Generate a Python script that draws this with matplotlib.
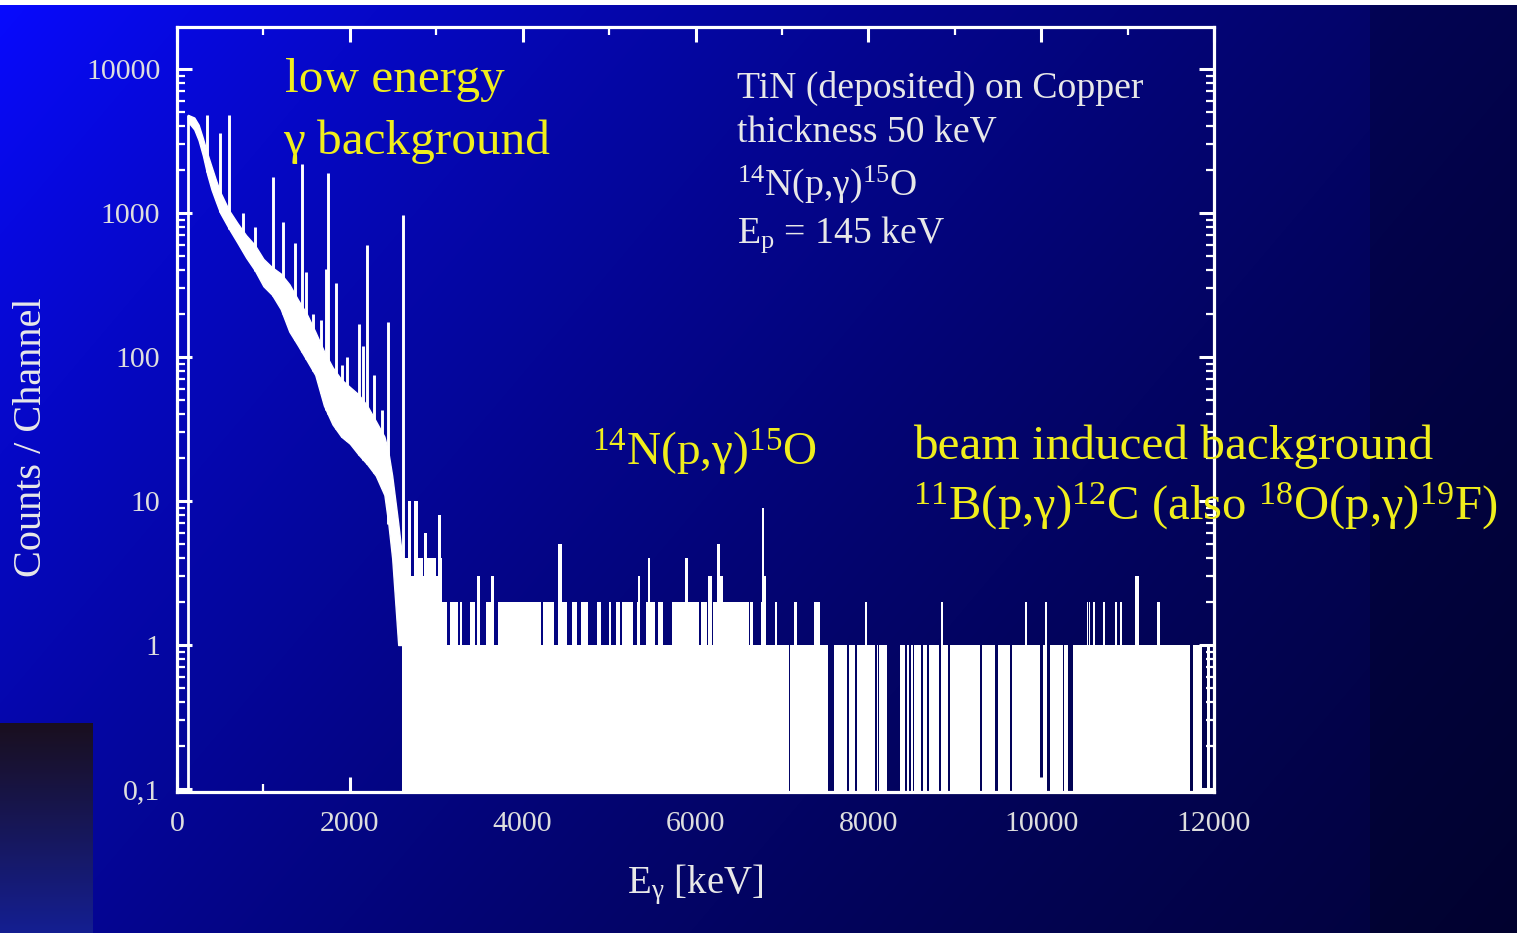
import numpy as np
import matplotlib.pyplot as plt
from matplotlib.ticker import LogLocator, NullFormatter, MultipleLocator

plt.rcParams['font.family'] = 'Liberation Serif'
plt.rcParams['mathtext.fontset'] = 'custom'
plt.rcParams['mathtext.rm'] = 'Liberation Serif'
plt.rcParams['mathtext.it'] = 'Liberation Serif:italic'

# ----------- DATA -----------------------------------
# low energy continuum, drawn as a white band (lower / upper edge), keV and counts
band_e = [127, 200, 250, 300, 350, 400, 450, 500, 600, 700, 800, 900, 1000, 1100,
          1200, 1300, 1400, 1500, 1600, 1700, 1800, 1900, 2000, 2100, 2200, 2300,
          2400, 2445, 2490, 2560, 2607]
band_lo = [4300, 3800, 3200, 2500, 1850, 1450, 1200, 1000, 780, 620, 490, 400, 310, 270,
           215, 150, 120, 95, 75, 46, 34, 28, 25, 21, 18, 15,
           11, 7, 4, 1, 1]
band_hi = [4800, 4600, 4100, 3300, 2600, 2100, 1700, 1400, 1050, 850, 700, 600, 480, 420,
           380, 320, 250, 200, 150, 110, 85, 70, 62, 55, 46, 36,
           28, 22, 15, 7, 4]

# background lines on top of the continuum
peak_e = [343, 497, 605, 760, 903, 1107, 1223, 1366, 1447, 1493, 1578, 1665, 1724,
          1751, 1838, 1905, 1964, 2102, 2157, 2195, 2280, 2369, 2446, 2612]
peak_c = [4800, 3600, 4800, 1000, 800, 1790, 870, 620, 2200, 390, 200, 180, 410,
          1890, 325, 88, 100, 170, 120, 600, 75, 43, 175, 970]

# high energy part: run starts (keV) and counts per channel in that run
hi_e = [2607, 2677, 2704, 2747, 2786, 2843, 2859, 2897, 3000, 3025, 3052,
        3063, 3121, 3160, 3256, 3275, 3302, 3391, 3449, 3468, 3507, 3576, 3630, 3669,
        3719, 4209, 4232, 4363, 4414, 4460, 4510, 4576, 4626, 4672, 4761, 4857, 4904,
        5004, 5019, 5081, 5127, 5154, 5282, 5320, 5340, 5359, 5428, 5455, 5475, 5532,
        5571, 5621, 5733, 5880, 5918, 6042, 6061, 6130, 6150, 6188, 6208, 6246, 6285,
        6323, 6620, 6632, 6663, 6755, 6771, 6790, 6817, 6921, 6940, 7080, 7092, 7145,
        7172, 7377, 7442, 7535, 7608, 7751, 7774, 7840, 7867, 7963, 7990, 8079, 8095,
        8110, 8125, 8214, 8368, 8430, 8445, 8465, 8488, 8515, 8534, 8607, 8630, 8677,
        8700, 8812, 8839, 8862, 8927, 8947, 9294, 9321, 9468, 9495, 9641, 9668, 9815,
        9834, 9988, 10027, 10046, 10066, 10100, 10247, 10270, 10316, 10363, 10528,
        10540, 10552, 10567, 10598, 10618, 10710, 10733, 10857, 10876, 10914, 10941,
        11090, 11127, 11339, 11377, 11725, 11755, 11860, 11918]
hi_c = [4, 10, 3, 10, 4, 3, 6, 4, 3, 8, 4,
        2, 1, 2, 1, 2, 1, 2, 1, 3, 1, 2, 3, 1,
        2, 1, 2, 1, 5, 2, 1, 2, 1, 2, 1, 2, 1,
        2, 1, 2, 1, 2, 1, 2, 3, 1, 2, 4, 2, 1,
        2, 1, 2, 4, 2, 1, 2, 1, 3, 1, 2, 5, 3,
        2, 1, 2, 1, 2, 9, 3, 1, 2, 1, 0, 1, 2,
        1, 2, 1, 0, 1, 0, 1, 0, 1, 2, 1, 0, 1,
        0, 1, 0, 1, 0, 1, 0, 1, 0, 1, 0, 1, 0,
        1, 0, 2, 1, 0, 1, 0, 1, 0, 1, 0, 1, 2,
        1, 0, 1, 2, 0, 1, 0, 1, 0, 1, 2,
        1, 2, 1, 2, 1, 2, 1, 2, 1, 2, 1,
        3, 1, 2, 1, 0, 1, 0, 1]
spec_end = 11950

x_ticks = [0, 2000, 4000, 6000, 8000, 10000, 12000]
y_ticks = [0.1, 1, 10, 100, 1000, 10000]
y_labels = ['0,1', '1', '10', '100', '1000', '10000']

W, H = 1517, 933
YELLOW = '#f0ee1c'
LIGHT = '#e8e8e8'

# ----------- FIGURE + BACKGROUND ------------
fig = plt.figure(figsize=(W / 100, H / 100), dpi=100)

xx, yy = np.meshgrid(np.arange(W), np.arange(H))
b = np.exp(-0.95 * xx / 1500 - 0.5 * yy / H)
b[:, 1370:] *= 0.8
bg = np.dstack([0.03 * b, 0.04 * b, b])
bg[:5, :, :] = 1.0
t = np.linspace(0, 1, H - 723)[:, None]
bg[723:, :93, 0] = 0.10 - 0.02 * t
bg[723:, :93, 1] = 0.06 + 0.06 * t
bg[723:, :93, 2] = 0.12 + 0.45 * t

ax_bg = fig.add_axes([0, 0, 1, 1])
ax_bg.imshow(bg, aspect='auto', extent=[0, W, H, 0])
ax_bg.axis('off')

# ----------- SPECTRUM ------------
ax = fig.add_axes([177 / W, 1 - 792 / H, 1037 / W, 765 / H])
ax.patch.set_alpha(0)
ax.set_yscale('log')
ax.set_xlim(0, 12000)
ax.set_ylim(0.0953, 19570)

ax.fill_between(band_e, band_lo, band_hi, color='white', lw=1.0, edgecolor='white')
ax.vlines(band_e[0], 1e-3, band_hi[0], color='white', lw=2)
base = np.interp(peak_e, band_e, band_lo)
ax.vlines(peak_e, base, peak_c, color='white', lw=2.1)

he = np.array(hi_e + [spec_end], float)
hc = np.array(hi_c + [hi_c[-1]], float)
hc[hc == 0] = 1e-3
ax.fill_between(he, 1e-3, hc, step='post', color='white', lw=0)

# ----------- AXES STYLE ------------
for s in ax.spines.values():
    s.set_color('white')
    s.set_linewidth(2.3)

ax.set_xticks(x_ticks)
ax.xaxis.set_minor_locator(MultipleLocator(1000))
ax.set_yticks(y_ticks)
ax.set_yticklabels(y_labels)
ax.yaxis.set_minor_locator(LogLocator(base=10, subs=np.arange(2, 10)))
ax.yaxis.set_minor_formatter(NullFormatter())
ax.tick_params(which='both', direction='in', top=True, right=True, color='white',
               labelcolor='#dedede', labelsize=21.5)
ax.tick_params(which='major', length=11, width=2.2)
ax.tick_params(which='minor', length=5.5, width=1.6)
ax.tick_params(axis='y', pad=12)
ax.tick_params(axis='x', pad=14)

# ----------- TEXT ------------
def ftext(x, y, s, **kw):
    fig.text(x / W, 1 - y / H, s, va='center', ha='left', **kw)

ftext(627, 885, r'E$_{\mathrm{\gamma}}$ [keV]', color=LIGHT, size=28)
fig.text(32 / W, 1 - 437 / H, 'Counts / Channel', rotation=90, va='center',
         ha='center', color=LIGHT, size=29)

ftext(285, 80, 'low energy', color=YELLOW, size=35.5)
ftext(283, 142, 'γ background', color=YELLOW, size=35.5)

ftext(737, 88, 'TiN (deposited) on Copper', color=LIGHT, size=27.2)
ftext(737, 133, 'thickness 50 keV', color=LIGHT, size=27.2)
ftext(737, 184, r'$^{14}$N(p,γ)$^{15}$O', color=LIGHT, size=27.2)
ftext(737, 235, r'E$_{\mathrm{p}}$ = 145 keV', color=LIGHT, size=27.2)

ftext(592, 452, r'$^{14}$N(p,γ)$^{15}$O', color=YELLOW, size=34)
ftext(913, 447, 'beam induced background', color=YELLOW, size=35.5)
ftext(913, 506, r'$^{11}$B(p,γ)$^{12}$C (also $^{18}$O(p,γ)$^{19}$F)', color=YELLOW,
      size=35)

fig.savefig('out.png', dpi=100)
